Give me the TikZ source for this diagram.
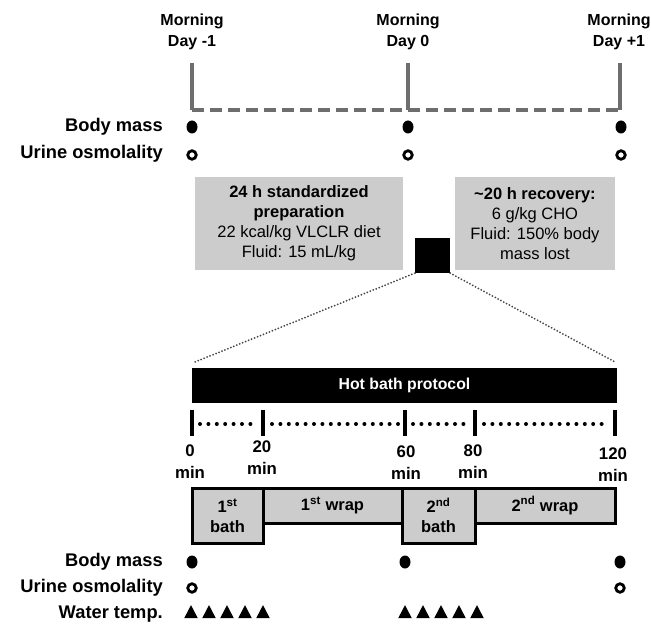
\documentclass[tikz,border=0pt]{standalone}
\usepackage{fontspec}
\setmainfont{Liberation Sans}
\usetikzlibrary{shapes.geometric}
\definecolor{boxgrey}{RGB}{204,204,204}
\definecolor{linegrey}{RGB}{110,110,110}
\definecolor{dotgrey}{RGB}{70,70,70}
\begin{document}
\begin{tikzpicture}[x=1pt,y=-1pt,
  lbl/.style={anchor=east,inner sep=0,font=\fontsize{18.3}{20}\selectfont\bfseries},
  daylbl/.style={align=center,inner sep=0,font=\fontsize{16}{21}\selectfont\bfseries},
  dayline/.style={draw=linegrey,line width=4pt},
  bmdot/.style={ellipse,fill=black,inner sep=0,minimum width=11pt,minimum height=13pt},
  uoring/.style={circle,draw=black,line width=2.8pt,inner sep=0,minimum size=8.5pt},
  tri/.style={isosceles triangle,isosceles triangle apex angle=55,shape border rotate=90,fill=black,inner sep=0,minimum height=13pt},
  greybox/.style={fill=boxgrey,align=center,inner sep=0,font=\fontsize{16.5}{20}\selectfont},
  phase/.style={fill=boxgrey,draw=black,line width=3pt,align=center,inner sep=0,font=\fontsize{16.5}{20}\selectfont\bfseries},
  ticklbl/.style={align=center,inner sep=0,font=\fontsize{16.8}{22}\selectfont\bfseries},
  tickline/.style={draw=black,line width=4.2pt},
  dotline/.style={draw=black,line width=4pt,line cap=round,dash pattern=on 0pt off 8.4pt},
  zoomline/.style={draw=dotgrey,line width=2pt,line cap=round,dash pattern=on 0pt off 3.2pt}
]
\useasboundingbox (0,0) rectangle (651,628);
\fill[white] (0,0) rectangle (651,628);

% top day labels
\node[daylbl] (dm1) at (192,31.5) {Morning\\Day -1};
\node[daylbl] (d0) at (408,31.5) {Morning\\Day 0};
\node[daylbl] (dp1) at (619,31.5) {Morning\\Day +1};

% day lines
\coordinate (la1) at (192,63); \coordinate (la2) at (192,110);
\coordinate (lb1) at (408,63); \coordinate (lb2) at (408,110);
\coordinate (lc1) at (620,63); \coordinate (lc2) at (620,110);
\draw[dayline] (la1) -- (la2);
\draw[dayline] (lb1) -- (lb2);
\draw[dayline] (lc1) -- (lc2);
\draw[dayline,dash pattern=on 12pt off 6pt] (la2) -- (lc2);

% top measurement rows
\node[lbl] (bmA) at (163,127) {Body mass};
\node[lbl] (uoA) at (163,154) {Urine osmolality};
\node[bmdot] (bmA1) at (192,127) {};
\node[bmdot] (bmA2) at (408,127) {};
\node[bmdot] (bmA3) at (621,127) {};
\node[uoring] (uoA1) at (192,155) {};
\node[uoring] (uoA2) at (408,155) {};
\node[uoring] (uoA3) at (621,155) {};

% grey boxes
\node[greybox,minimum width=208pt,minimum height=93pt] (prep) at (299,223.5)
  {\textbf{24 h standardized}\\\textbf{preparation}\\22 kcal/kg VLCLR diet\\Fluid: 15 mL/kg};
\node[greybox,minimum width=160pt,minimum height=93pt] (rec) at (535,223.5)
  {\textbf{\textasciitilde 20 h recovery:}\\6 g/kg CHO\\Fluid: 150\% body\\mass lost};

% black square and zoom lines
\node[fill=black,minimum size=35pt,inner sep=0] (sq) at (432.5,255.5) {};
\coordinate (zl) at (195,362);
\coordinate (zr) at (615,362);
\draw[zoomline] (sq.south west) -- (zl);
\draw[zoomline] (sq.south east) -- (zr);

% hot bath bar
\node[fill=black,minimum width=425pt,minimum height=35pt,inner sep=0,text=white,
  font=\fontsize{15.8}{18}\selectfont\bfseries] (bar) at (404.5,385.5) {Hot bath protocol};

% timeline
\coordinate (t0a) at (192,410); \coordinate (t0b) at (192,436);
\coordinate (t1a) at (263,410); \coordinate (t1b) at (263,436);
\coordinate (t2a) at (405,410); \coordinate (t2b) at (405,436);
\coordinate (t3a) at (475,410); \coordinate (t3b) at (475,436);
\coordinate (t4a) at (615,410); \coordinate (t4b) at (615,436);
\draw[tickline] (t0a) -- (t0b);
\draw[tickline] (t1a) -- (t1b);
\draw[tickline] (t2a) -- (t2b);
\draw[tickline] (t3a) -- (t3b);
\draw[tickline] (t4a) -- (t4b);
\coordinate (d0s) at (200,424); \coordinate (d0e) at (257,424);
\coordinate (d1s) at (272,424); \coordinate (d1e) at (399,424);
\coordinate (d2s) at (413,424); \coordinate (d2e) at (469,424);
\coordinate (d3s) at (484,424); \coordinate (d3e) at (609,424);
\draw[dotline] (d0s) -- (d0e);
\draw[dotline] (d1s) -- (d1e);
\draw[dotline] (d2s) -- (d2e);
\draw[dotline] (d3s) -- (d3e);

\node[ticklbl] (m0) at (190,461.5) {0\\min};
\node[ticklbl] (m20) at (262,457.5) {20\\min};
\node[ticklbl] (m60) at (406,463) {60\\min};
\node[ticklbl] (m80) at (473,462) {80\\min};
\node[ticklbl] (m120) at (613,465) {120\\min};

% phase boxes
\node[phase,minimum width=139pt,minimum height=35pt] (w1) at (332.5,505.5) {1\textsuperscript{st} wrap};
\node[phase,minimum width=140pt,minimum height=35pt] (w2) at (545,505.5) {2\textsuperscript{nd} wrap};
\node[phase,minimum width=71pt,minimum height=55pt] (b1) at (227.5,515.5) {1\textsuperscript{st}\\bath};
\node[phase,minimum width=73pt,minimum height=55pt] (b2) at (438.5,515.5) {2\textsuperscript{nd}\\bath};

% bottom measurement rows
\node[lbl] (bmB) at (163,562) {Body mass};
\node[lbl] (uoB) at (163,588) {Urine osmolality};
\node[lbl] (wtB) at (163,614) {Water temp.};
\node[bmdot] (bmB1) at (192,562) {};
\node[bmdot] (bmB2) at (405,562) {};
\node[bmdot] (bmB3) at (620,562) {};
\node[uoring] (uoB1) at (192,588) {};
\node[uoring] (uoB2) at (620,588) {};
\foreach \i/\xx in {1/191,2/209,3/227,4/245,5/263}{
  \node[tri] (wa\i) at (\xx,614) {};
}
\foreach \i/\xx in {1/405,2/423,3/441,4/459,5/477}{
  \node[tri] (wb\i) at (\xx,614) {};
}
\end{tikzpicture}
\end{document}
